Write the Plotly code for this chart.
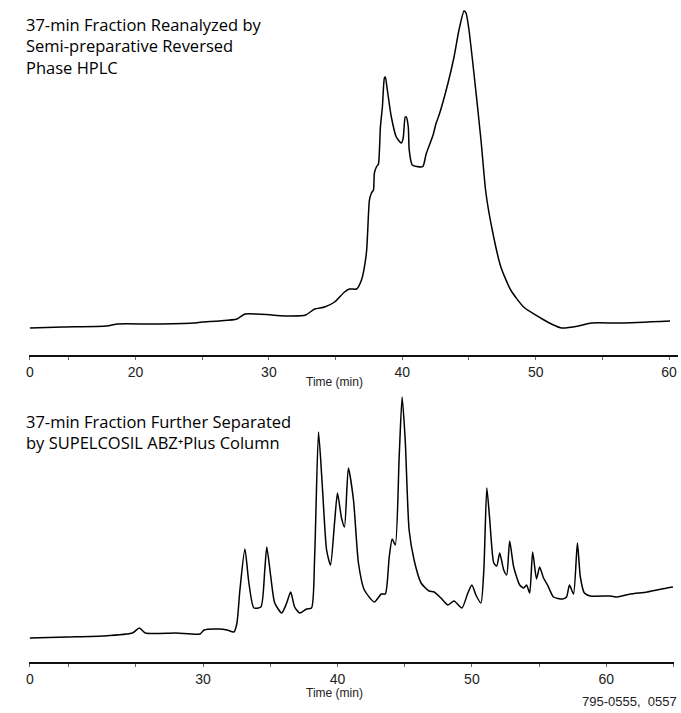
import plotly.graph_objects as go

# ---------------- data ----------------
# Top chromatogram: semi-preparative reversed phase HPLC (time in min, relative response)
top_time = [12.09, 14.55, 17.84, 18.66, 21.27, 24.33, 25.0, 26.27, 27.61, 28.21, 29.10, 30.22,
            31.72, 32.76, 33.43, 34.18, 34.93, 35.67, 36.04, 36.57, 36.94, 37.31, 37.54, 37.69,
            37.84, 37.91, 38.06, 38.21, 38.36, 38.51, 38.66, 38.73, 38.88, 39.18, 39.55, 39.93,
            40.07, 40.22, 40.30, 40.45, 40.52, 40.75, 41.42, 41.57, 41.79, 42.31, 42.54, 42.76,
            43.43, 43.88, 44.25, 44.63, 44.78, 45.0, 45.37, 45.90, 46.27, 46.79, 47.39, 48.13,
            49.10, 50.37, 51.34, 51.94, 53.21, 54.18, 56.34, 60.07]
top_signal = [27, 28, 29, 31, 31, 32, 33, 34, 36, 41, 41, 40,
              39, 40, 46, 48, 53, 63, 66, 66, 75, 102, 155, 162,
              165, 182, 188, 191, 228, 248, 277, 278, 265, 238, 218, 212,
              217, 238, 238, 228, 205, 190, 188, 189, 201, 220, 232, 240,
              272, 298, 325, 344, 342, 325, 282, 215, 162, 122, 88, 65,
              48, 37, 30, 27, 29, 32, 32, 34]

# Bottom chromatogram: SUPELCOSIL ABZ+Plus column
bottom_time = [17.11, 19.93, 22.52, 24.74, 25.26, 25.70, 28.0, 29.78, 30.07, 31.19, 31.78, 32.30,
               32.52, 32.74, 33.11, 33.41, 33.78, 34.30, 34.59, 34.74, 35.04, 35.33, 35.85, 36.22,
               36.52, 36.81, 37.19, 37.70, 38.07, 38.30, 38.59, 38.89, 39.19, 39.48, 39.78, 40.0,
               40.30, 40.52, 40.81, 41.19, 41.56, 42.0, 42.74, 43.26, 43.56, 43.85, 44.07, 44.30,
               44.59, 44.81, 45.04, 45.33, 45.70, 46.22, 46.81, 47.19, 47.70, 48.22, 48.67, 49.26,
               49.70, 50.0, 50.30, 50.67, 50.89, 51.11, 51.33, 51.63, 51.85, 52.07, 52.37, 52.59,
               52.81, 53.11, 53.56, 53.85, 54.07, 54.30, 54.52, 54.81, 55.04, 55.33, 55.63, 56.07,
               56.74, 57.04, 57.26, 57.56, 57.85, 58.07, 58.37, 58.81, 60.30, 60.81, 61.78, 63.04,
               64.52, 64.96]
bottom_signal = [24, 25, 26, 29, 34, 29, 29, 28, 32, 33, 32, 30,
                 39, 72, 113, 79, 54, 55, 92, 115, 85, 59, 49, 59,
                 70, 55, 49, 53, 54, 105, 230, 172, 112, 97, 139, 169,
                 144, 135, 194, 162, 99, 72, 60, 68, 68, 105, 123, 117,
                 205, 265, 222, 132, 102, 79, 71, 70, 64, 57, 61, 54,
                 69, 77, 67, 59, 92, 174, 142, 99, 96, 109, 92, 87,
                 121, 95, 77, 74, 77, 69, 110, 83, 95, 84, 77, 65,
                 63, 65, 77, 68, 119, 85, 69, 66, 66, 65, 68, 70,
                 74, 75]

# Axis ticks (first labelled "0" at the start of the record)
top_tick_vals = [12.09, 20, 30, 40, 50, 60]
top_tick_text = ["0", "20", "30", "40", "50", "60"]
top_minor_vals = [15, 25, 35, 45, 55]
bottom_tick_vals = [17.11, 30, 40, 50, 60]
bottom_tick_text = ["0", "30", "40", "50", "60"]
bottom_minor_vals = [20, 25, 35, 45, 55, 65]

top_title_lines = ["37-min Fraction Reanalyzed by", "Semi-preparative Reversed", "Phase HPLC"]
bottom_title_lines = ["37-min Fraction Further Separated", "by SUPELCOSIL ABZ\u207aPlus Column"]
axis_label = "Time (min)"
footnote = "795-0555,  0557"

# ---------------- figure ----------------
W, H = 681, 713
fig = go.Figure()

line_style = dict(color="black", width=1.5, shape="spline", smoothing=0.6)
fig.add_trace(go.Scatter(x=top_time, y=top_signal, mode="lines", line=line_style,
                         xaxis="x", yaxis="y", showlegend=False, hoverinfo="skip"))
fig.add_trace(go.Scatter(x=bottom_time, y=bottom_signal, mode="lines", line=line_style,
                         xaxis="x2", yaxis="y2", showlegend=False, hoverinfo="skip"))

tick_font = dict(family="Liberation Sans, Arial, sans-serif", size=14, color="#222")

common_x = dict(showgrid=False, zeroline=False, showline=True, linecolor="#111", linewidth=1.5,
                ticks="outside", ticklen=3, tickwidth=1, tickcolor="#666",
                tickfont=tick_font, tickmode="array", fixedrange=True)
common_y = dict(visible=False, showgrid=False, zeroline=False, fixedrange=True)

fig.update_layout(
    width=W, height=H,
    margin=dict(l=0, r=0, t=0, b=0),
    paper_bgcolor="white", plot_bgcolor="white",
    xaxis=dict(common_x, domain=[26 / W, 678 / W], range=[12.01, 60.67],
               tickvals=top_tick_vals, ticktext=top_tick_text, anchor="y",
               minor=dict(tickmode="array", tickvals=top_minor_vals, ticks="outside",
                          ticklen=3, tickwidth=1, tickcolor="#666", showgrid=False)),
    yaxis=dict(common_y, domain=[1 - 355 / H, 1.0], range=[0, 355], anchor="x"),
    xaxis2=dict(common_x, domain=[26 / W, 674 / W], range=[17.04, 65.04],
                tickvals=bottom_tick_vals, ticktext=bottom_tick_text, anchor="y2",
                minor=dict(tickmode="array", tickvals=bottom_minor_vals, ticks="outside",
                           ticklen=3, tickwidth=1, tickcolor="#666", showgrid=False)),
    yaxis2=dict(common_y, domain=[1 - 662 / H, 1 - 380 / H], range=[0, 282], anchor="x2"),
)

title_font = dict(family="Open Sans, Noto Sans, sans-serif", size=16.5, color="black")
label_font = dict(family="Liberation Sans, Arial, sans-serif", size=12, color="#222")
foot_font = dict(family="Liberation Sans, Arial, sans-serif", size=13, color="#222")

fig.add_annotation(text="<br>".join(top_title_lines), xref="paper", yref="paper",
                   x=21 / W, y=1 - 46.5 / H, xanchor="left", yanchor="middle",
                   align="left", showarrow=False, font=title_font)
fig.add_annotation(text="<br>".join(bottom_title_lines), xref="paper", yref="paper",
                   x=21 / W, y=1 - 432 / H, xanchor="left", yanchor="middle",
                   align="left", showarrow=False, font=title_font)

fig.add_annotation(text=axis_label, xref="paper", yref="paper", x=333 / W, y=1 - 382 / H,
                   xanchor="center", yanchor="middle", showarrow=False, font=label_font)
fig.add_annotation(text=axis_label, xref="paper", yref="paper", x=333 / W, y=1 - 693 / H,
                   xanchor="center", yanchor="middle", showarrow=False, font=label_font)
fig.add_annotation(text=footnote, xref="paper", yref="paper", x=679 / W, y=1 - 701 / H,
                   xanchor="right", yanchor="middle", showarrow=False, font=foot_font)

fig.write_html("out.html", config={"displayModeBar": False},
               post_script="document.body.style.margin='0';")
